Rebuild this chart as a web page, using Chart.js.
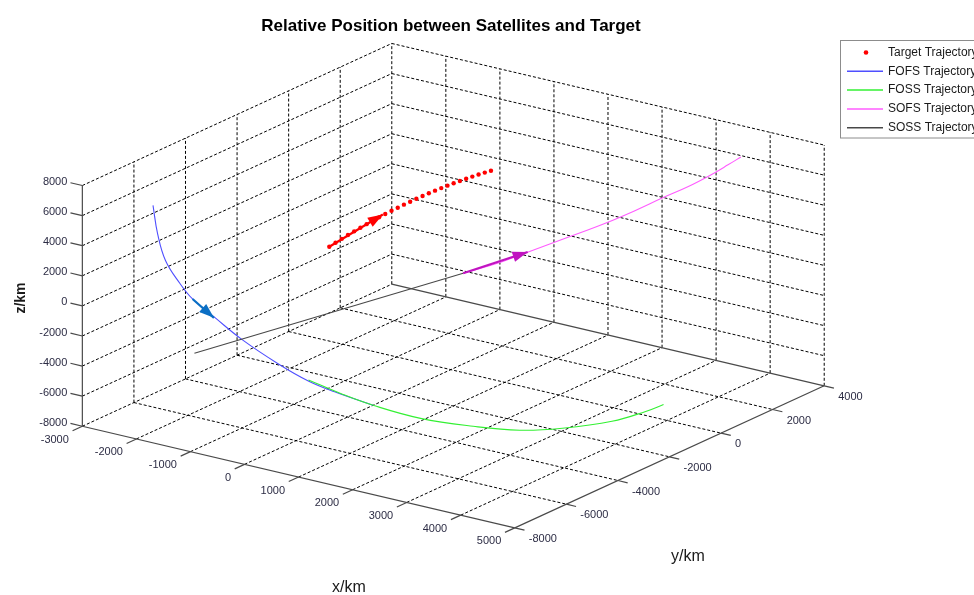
<!DOCTYPE html>
<html>
<head>
<meta charset="utf-8">
<title>Relative Position between Satellites and Target</title>
<script src="https://cdn.jsdelivr.net/npm/chart.js@4.4.1/dist/chart.umd.min.js"></script>
<style>
  html, body { margin: 0; padding: 0; background: #ffffff; }
  #wrap { width: 974px; height: 595px; position: relative; }
</style>
</head>
<body>
<div id="wrap"><canvas id="chart"></canvas></div>
<script>
// ---- Axis limits and ticks (km) ----
const X_LIM = [-3000, 5000];
const Y_LIM = [-8000, 4000];
const Z_LIM = [-8000, 8000];
const X_TICKS = [-3000, -2000, -1000, 0, 1000, 2000, 3000, 4000, 5000];
const Y_TICKS = [-8000, -6000, -4000, -2000, 0, 2000, 4000];
const Z_TICKS = [-8000, -6000, -4000, -2000, 0, 2000, 4000, 6000, 8000];

// ---- Target trajectory (sampled points, km) ----
const targetX = [-1294, -1252, -1210, -1169, -1127, -1085, -1044, -1002, -960, -919, -877, -835, -794, -752, -711, -669, -627, -586, -544, -502, -461, -419, -377, -336, -294, -252, -211];
const targetY = [-2000, -1846, -1692, -1538, -1385, -1231, -1077, -923, -769, -615, -461, -307, -154, 0, 154, 308, 462, 616, 770, 923, 1077, 1231, 1385, 1539, 1693, 1847, 2000];
const targetZ = [654, 831, 1003, 1169, 1330, 1485, 1635, 1779, 1918, 2051, 2179, 2301, 2417, 2528, 2634, 2734, 2828, 2917, 3001, 3079, 3151, 3218, 3279, 3335, 3386, 3430, 3470];

// ---- FOFS trajectory ----
const fofsX = [-2170, -2180, -2130, -1960, -1820, -1500, -1100, -510, -60, 330, 960];
const fofsY = [-7000, -6800, -6600, -6400, -6200, -6000, -5800, -5600, -5400, -5200, -5000];
const fofsZ = [6600, 4540, 2650, 1120, 40, -1090, -2350, -3660, -4550, -5100, -5640];

// ---- FOSS trajectory ----
const fossX = [-57, 358, 773, 1444, 2226, 2897, 3495, 4222, 4655, 4890];
const fossY = [-5400, -5000, -4600, -4200, -3800, -3400, -3000, -2600, -2200, -2000];
const fossZ = [-4480, -5362, -6113, -6713, -6893, -6903, -6581, -5824, -5117, -4616];

// ---- SOFS trajectory ----
const sofsX = [706, 1147, 1495, 1954, 2394, 2670, 2945, 3202, 3386, 3459, 3459];
const sofsY = [-1000, -500, 0, 500, 1000, 1500, 2000, 2500, 3000, 3500, 4000];
const sofsZ = [-214, 485, 1171, 2084, 2982, 3607, 4298, 4909, 5456, 5779, 5912];

// ---- SOSS trajectory ----
const sossX = [-1165, 706];
const sossY = [-7500, -1000];
const sossZ = [-1990, -214];

// ---- Direction arrows: [start, tip] in km ----
const arrowFofs = [[-1820, -6200, 40], [-1520, -6000, -1120]];
const arrowTarget = [[-1294, -2000, 654], [-935, -675, 2050]];
const arrowSofs = [[706, -1000, -214], [1450, -60, 1090]];

const SERIES_NAMES = ['Target Trajectory', 'FOFS Trajectory', 'FOSS Trajectory', 'SOFS Trajectory', 'SOSS Trajectory'];

// ---- Orthographic view of the axis box (screen units) ----
const VIEW = { ox: 79, oy: 428, U: [436, 103], V: [312, -144], W: [0, -244] };
function project(x, y, z) {
  const u = (x - X_LIM[0]) / (X_LIM[1] - X_LIM[0]);
  const v = (y - Y_LIM[0]) / (Y_LIM[1] - Y_LIM[0]);
  const w = (z - Z_LIM[0]) / (Z_LIM[1] - Z_LIM[0]);
  return {
    x: VIEW.ox + VIEW.U[0] * u + VIEW.V[0] * v + VIEW.W[0] * w,
    y: VIEW.oy + VIEW.U[1] * u + VIEW.V[1] * v + VIEW.W[1] * w
  };
}
const path = (xs, ys, zs) => xs.map((x, i) => project(x, ys[i], zs[i]));

const COLORS = {
  target: '#ff0000',
  fofs: '#4f4fff',
  foss: '#33f033',
  sofs: '#ff5cff',
  soss: '#484848',
  arrowFofs: '#0b6fc4',
  arrowSofs: '#c014c0',
  grid: '#000000',
  axis: '#4a4a4a',
  tickText: '#2c2c44'
};

const [X0, X1] = X_LIM, [Y0, Y1] = Y_LIM, [Z0, Z1] = Z_LIM;
const datasets = [];

function segment(a, b, opts) {
  datasets.push(Object.assign({
    type: 'scatter', showLine: true, pointRadius: 0, tension: 0,
    data: [project(...a), project(...b)]
  }, opts));
}

// Dotted grid on the two back walls and the floor
const gridOpts = { borderColor: COLORS.grid, borderWidth: 1, borderDash: [3, 2], order: 100 };
Y_TICKS.forEach(y => { if (y !== Y0) segment([X0, y, Z0], [X0, y, Z1], gridOpts); });
Z_TICKS.forEach(z => { if (z !== Z0) segment([X0, Y0, z], [X0, Y1, z], gridOpts); });
X_TICKS.forEach(x => { if (x !== X0) segment([x, Y1, Z0], [x, Y1, Z1], gridOpts); });
Z_TICKS.forEach(z => { if (z !== Z0) segment([X0, Y1, z], [X1, Y1, z], gridOpts); });
X_TICKS.forEach(x => { if (x !== X1) segment([x, Y0, Z0], [x, Y1, Z0], gridOpts); });
Y_TICKS.forEach(y => { if (y !== Y0 && y !== Y1) segment([X0, y, Z0], [X1, y, Z0], gridOpts); });

// Solid axis lines and tick marks
const axisOpts = { borderColor: COLORS.axis, borderWidth: 1.2, order: 90 };
segment([X0, Y0, Z0], [X0, Y0, Z1], axisOpts);
segment([X0, Y0, Z0], [X1, Y0, Z0], axisOpts);
segment([X1, Y0, Z0], [X1, Y1, Z0], axisOpts);
segment([X0, Y1, Z0], [X1, Y1, Z0], axisOpts);
Z_TICKS.forEach(z => segment([X0, Y0, z], [X0 - 220, Y0, z], axisOpts));
X_TICKS.forEach(x => segment([x, Y0, Z0], [x, Y0 - 380, Z0], axisOpts));
Y_TICKS.forEach(y => segment([X1, y, Z0], [X1 + 180, y, Z0], axisOpts));

// Trajectories
datasets.push({
  type: 'scatter', label: SERIES_NAMES[0], data: path(targetX, targetY, targetZ),
  showLine: false, pointRadius: 2.2, pointBackgroundColor: COLORS.target,
  pointBorderWidth: 0, order: 50
});
const lineOpts = { type: 'scatter', showLine: true, pointRadius: 0, borderWidth: 1.1, tension: 0.4 };
datasets.push(Object.assign({}, lineOpts, { label: SERIES_NAMES[1], data: path(fofsX, fofsY, fofsZ), borderColor: COLORS.fofs, order: 40 }));
datasets.push(Object.assign({}, lineOpts, { label: SERIES_NAMES[2], data: path(fossX, fossY, fossZ), borderColor: COLORS.foss, order: 30 }));
datasets.push(Object.assign({}, lineOpts, { label: SERIES_NAMES[3], data: path(sofsX, sofsY, sofsZ), borderColor: COLORS.sofs, order: 20 }));
datasets.push(Object.assign({}, lineOpts, { label: SERIES_NAMES[4], data: path(sossX, sossY, sossZ), borderColor: COLORS.soss, order: 10, tension: 0 }));

// Arrow shafts (heads are drawn by the plugin below)
const ARROWS = [
  { pts: arrowFofs, color: COLORS.arrowFofs },
  { pts: arrowTarget, color: COLORS.target },
  { pts: arrowSofs, color: COLORS.arrowSofs }
];
ARROWS.forEach(a => segment(a.pts[0], a.pts[1], { borderColor: a.color, borderWidth: 2.2, order: 5 }));

const FONT = '"Liberation Sans", Arial, Helvetica, sans-serif';

const annotations = {
  id: 'annotations',
  afterDatasetsDraw(chart) {
    const ctx = chart.ctx, sx = chart.scales.x, sy = chart.scales.y;
    const px = p => ({ x: sx.getPixelForValue(p.x), y: sy.getPixelForValue(p.y) });
    // arrow heads
    ARROWS.forEach(a => {
      const s = px(project(...a.pts[0])), t = px(project(...a.pts[1]));
      const dx = t.x - s.x, dy = t.y - s.y, len = Math.hypot(dx, dy);
      const ux = dx / len, uy = dy / len, L = 15, H = 5.3;
      ctx.save();
      ctx.fillStyle = a.color;
      ctx.beginPath();
      ctx.moveTo(t.x, t.y);
      ctx.lineTo(t.x - ux * L - uy * H, t.y - uy * L + ux * H);
      ctx.lineTo(t.x - ux * L + uy * H, t.y - uy * L - ux * H);
      ctx.closePath();
      ctx.fill();
      ctx.restore();
    });
  },
  afterDraw(chart) {
    const ctx = chart.ctx, sx = chart.scales.x, sy = chart.scales.y;
    const px = p => ({ x: sx.getPixelForValue(p.x), y: sy.getPixelForValue(p.y) });
    ctx.save();
    // tick labels
    ctx.fillStyle = COLORS.tickText;
    ctx.font = '11px ' + FONT;
    ctx.textBaseline = 'middle';
    ctx.textAlign = 'right';
    Z_TICKS.forEach(z => { const p = px(project(X0, Y0, z)); ctx.fillText(String(z), p.x - 15, p.y - 3.5); });
    X_TICKS.forEach(x => { const p = px(project(x, Y0, Z0)); ctx.fillText(String(x), p.x - 13.5, p.y + 13.5); });
    ctx.textAlign = 'left';
    Y_TICKS.forEach(y => { const p = px(project(X1, y, Z0)); ctx.fillText(String(y), p.x + 14, p.y + 11); });

    // axis titles
    ctx.fillStyle = '#1a1a1a';
    ctx.textAlign = 'center';
    ctx.font = '16px ' + FONT;
    ctx.fillText('x/km', 349, 588);
    ctx.fillText('y/km', 688, 557);
    ctx.save();
    ctx.translate(21, 298);
    ctx.rotate(-Math.PI / 2);
    ctx.font = 'bold 14px ' + FONT;
    ctx.fillText('z/km', 0, 0);
    ctx.restore();

    // title
    ctx.font = 'bold 17px ' + FONT;
    ctx.textBaseline = 'alphabetic';
    ctx.fillStyle = '#000000';
    ctx.fillText('Relative Position between Satellites and Target', 451, 31);

    // legend
    const lx = 840.5, ly = 40.5, rowH = 18.8;
    ctx.fillStyle = '#ffffff';
    ctx.fillRect(lx, ly, 200, 97.5);
    ctx.strokeStyle = '#8c8c8c';
    ctx.lineWidth = 1;
    ctx.strokeRect(lx, ly, 200, 97.5);
    const legendColors = [COLORS.target, COLORS.fofs, COLORS.foss, COLORS.sofs, COLORS.soss];
    ctx.font = '12px ' + FONT;
    ctx.textAlign = 'left';
    ctx.textBaseline = 'middle';
    SERIES_NAMES.forEach((name, i) => {
      const y = 52.5 + i * rowH;
      if (i === 0) {
        ctx.fillStyle = legendColors[0];
        ctx.beginPath(); ctx.arc(866, y, 2.3, 0, Math.PI * 2); ctx.fill();
      } else {
        ctx.strokeStyle = legendColors[i];
        ctx.lineWidth = 1.5;
        ctx.beginPath(); ctx.moveTo(847, y); ctx.lineTo(883, y); ctx.stroke();
      }
      ctx.fillStyle = '#1a1a1a';
      ctx.fillText(name, 888, y);
    });
    ctx.restore();
  }
};

new Chart(document.getElementById('chart'), {
  type: 'scatter',
  data: { datasets },
  options: {
    responsive: true,
    maintainAspectRatio: false,
    animation: false,
    devicePixelRatio: 1,
    layout: { padding: 0 },
    events: [],
    elements: { line: { borderCapStyle: 'butt' } },
    plugins: { legend: { display: false }, tooltip: { enabled: false }, title: { display: false } },
    scales: {
      x: { type: 'linear', min: 0, max: 974, display: false },
      y: { type: 'linear', min: 0, max: 595, reverse: true, display: false }
    }
  },
  plugins: [annotations]
});
</script>
</body>
</html>
